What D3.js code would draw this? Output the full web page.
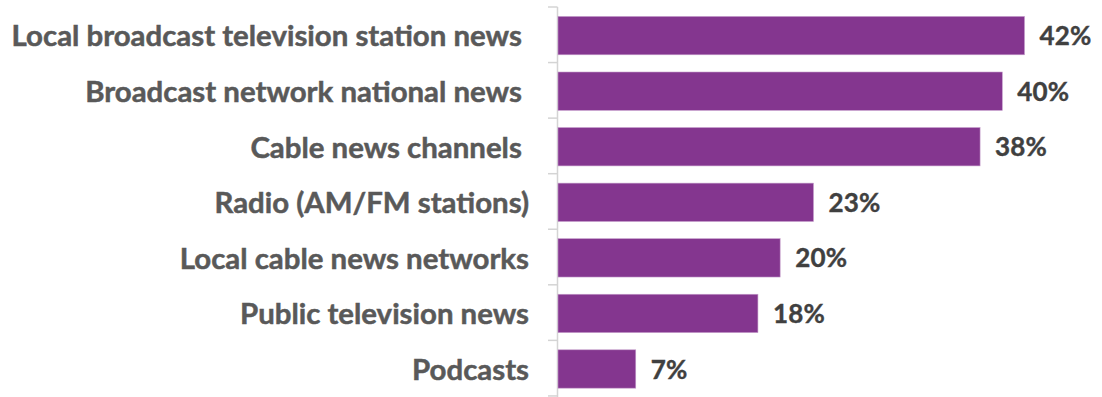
<!DOCTYPE html>
<html>
<head>
<meta charset="utf-8">
<script src="https://cdn.jsdelivr.net/npm/d3@7"></script>
<style>
  html, body { margin: 0; padding: 0; background: #fff; }
  svg { display: block; }
</style>
</head>
<body>
<svg id="chart" width="1102" height="397"></svg>
<script>
// Share of respondents by news source
const categories = [
  "Local broadcast television station news\u00a0",
  "Broadcast network national news\u00a0",
  "Cable news channels\u00a0",
  "Radio (AM/FM stations)",
  "Local cable news networks",
  "Public television news",
  "Podcasts"
];
const values = [42, 40, 38, 23, 20, 18, 7];
const valueLabels = ["42%", "40%", "38%", "23%", "20%", "18%", "7%"];

const svg = d3.select("#chart");
const axisX = 557.5;

const x = d3.scaleLinear().domain([0, 42]).range([558, 1024.5]);
const y = d3.scaleBand().domain(categories).range([7, 397.6]).paddingInner(0.31).paddingOuter(0.17);
const step = y.step();

// Axis spine with ticks at band boundaries
svg.append("line")
  .attr("x1", axisX).attr("x2", axisX)
  .attr("y1", 7).attr("y2", 397)
  .attr("stroke", "#d4d4d4").attr("stroke-width", 1.5);

svg.selectAll("line.tick")
  .data(d3.range(categories.length + 1))
  .join("line")
  .attr("class", "tick")
  .attr("x1", 548).attr("x2", axisX)
  .attr("y1", i => 7 + i * step).attr("y2", i => 7 + i * step)
  .attr("stroke", "#d4d4d4").attr("stroke-width", 1.5);

// Bars
svg.selectAll("rect.bar")
  .data(values)
  .join("rect")
  .attr("class", "bar")
  .attr("x", x(0))
  .attr("y", (d, i) => y(categories[i]))
  .attr("width", d => x(d) - x(0))
  .attr("height", y.bandwidth())
  .attr("fill", "#84368F")
  .attr("stroke", "#c49bca")
  .attr("stroke-width", 0.6);

// Category labels
svg.selectAll("text.cat")
  .data(categories)
  .join("text")
  .attr("class", "cat")
  .attr("x", 529)
  .attr("y", d => y(d) + y.bandwidth() / 2)
  .attr("dy", "0.37em")
  .attr("text-anchor", "end")
  .attr("font-family", "Lato, 'Open Sans', sans-serif")
  .attr("font-weight", 700)
  .attr("font-size", 29.4)
  .attr("fill", "#595959")
  .attr("stroke", "#595959")
  .attr("stroke-width", 0.5)
  .text(d => d);

// Value labels
svg.selectAll("text.val")
  .data(values)
  .join("text")
  .attr("class", "val")
  .attr("x", d => x(d) + 15)
  .attr("y", (d, i) => y(categories[i]) + y.bandwidth() / 2)
  .attr("dy", "0.37em")
  .attr("font-family", "Lato, 'Open Sans', sans-serif")
  .attr("font-weight", 700)
  .attr("font-size", 26)
  .attr("letter-spacing", 0.2)
  .attr("fill", "#404040")
  .attr("stroke", "#404040")
  .attr("stroke-width", 0.4)
  .text((d, i) => valueLabels[i]);
</script>
</body>
</html>
